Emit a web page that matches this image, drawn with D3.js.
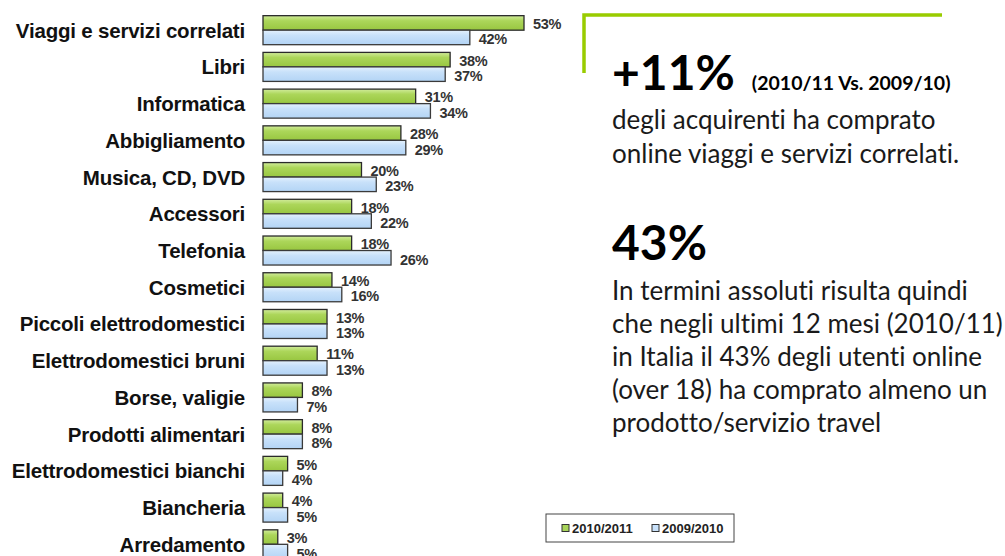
<!DOCTYPE html>
<html>
<head>
<meta charset="utf-8">
<script src="https://cdn.jsdelivr.net/npm/d3@7"></script>
<style>
  body { margin: 0; background: #fff; }
  svg { display: block; }
</style>
</head>
<body>
<div id="chart"></div>
<script>
// Categories and values (percent of online buyers)
const categories = [
    "Viaggi e servizi correlati", "Libri", "Informatica", "Abbigliamento",
    "Musica, CD, DVD", "Accessori", "Telefonia", "Cosmetici",
    "Piccoli elettrodomestici", "Elettrodomestici bruni", "Borse, valigie",
    "Prodotti alimentari", "Elettrodomestici bianchi", "Biancheria", "Arredamento"
];
const values2011 = [53, 38, 31, 28, 20, 18, 18, 14, 13, 11, 8, 8, 5, 4, 3];
const values2010 = [42, 37, 34, 29, 23, 22, 26, 16, 13, 13, 7, 8, 4, 5, 5];
const seriesNames = ["2010/2011", "2009/2010"];

const W = 1005, H = 556;

const svg = d3.select("#chart").append("svg")
    .attr("width", W)
    .attr("height", H);

// Gradients for bars
const defs = svg.append("defs");
const gradients = [
    { id: "gGreen", top: "#d2ec9c", mid: "#acd65a", bottom: "#98c640" },
    { id: "gBlue", top: "#e4f1fd", mid: "#c8e1fa", bottom: "#b3d4f5" }
];
gradients.forEach(g => {
    const lg = defs.append("linearGradient")
        .attr("id", g.id)
        .attr("x1", 0).attr("y1", 0).attr("x2", 0).attr("y2", 1);
    lg.append("stop").attr("offset", "0%").attr("stop-color", g.top);
    lg.append("stop").attr("offset", "35%").attr("stop-color", g.mid);
    lg.append("stop").attr("offset", "100%").attr("stop-color", g.bottom);
});

// Scales
const x = d3.scaleLinear().domain([0, 53]).range([263, 524]);
const y = d3.scaleBand()
    .domain(categories)
    .range([12, 12 + 15 * 36.7])
    .paddingInner(0.21)
    .paddingOuter(0.1);
const sub = d3.scaleBand()
    .domain(seriesNames)
    .range([0, y.bandwidth()]);

const rows = categories.map((c, i) => ({ cat: c, v: [values2011[i], values2010[i]] }));

const row = svg.append("g").selectAll("g")
    .data(rows)
    .join("g")
    .attr("transform", d => `translate(0,${y(d.cat)})`);

// Category labels
row.append("text")
    .attr("x", 245)
    .attr("y", y.bandwidth() / 2)
    .attr("text-anchor", "end")
    .attr("dominant-baseline", "central")
    .attr("font-family", "Liberation Sans, Arial, sans-serif")
    .attr("font-size", "20.5px")
    .attr("font-weight", "bold")
    .attr("letter-spacing", "-0.2px")
    .attr("fill", "#111")
    .text(d => d.cat);

// Bars
const fills = ["url(#gGreen)", "url(#gBlue)"];
const strokes = ["#2a2a2a", "#3a3a3a"];
seriesNames.forEach((s, k) => {
    row.append("rect")
        .attr("x", x(0))
        .attr("y", sub(s))
        .attr("width", d => x(d.v[k]) - x(0))
        .attr("height", sub.bandwidth())
        .attr("fill", fills[k])
        .attr("stroke", strokes[k])
        .attr("stroke-width", 1.3);
});

// Value labels
seriesNames.forEach((s, k) => {
    row.append("text")
        .attr("x", d => x(d.v[k]) + 9)
        .attr("y", sub(s) + sub.bandwidth() / 2 + (k === 0 ? 1 : 2))
        .attr("dominant-baseline", "central")
        .attr("font-family", "Liberation Sans, Arial, sans-serif")
        .attr("font-size", "14.5px")
        .attr("font-weight", "bold")
        .attr("letter-spacing", "-0.3px")
        .attr("fill", "#333")
        .text(d => d.v[k] + "%");
});

// Legend
const legend = svg.append("g").attr("transform", "translate(546,514)");
legend.append("rect")
    .attr("width", 188).attr("height", 28)
    .attr("fill", "#fff")
    .attr("stroke", "#444").attr("stroke-width", 1);
const legendColors = ["#a8d45a", "#c8e1fa"];
seriesNames.forEach((s, k) => {
    const lg = legend.append("g").attr("transform", `translate(${16 + k * 90},14)`);
    lg.append("rect")
        .attr("x", 0).attr("y", -3.5)
        .attr("width", 7).attr("height", 7)
        .attr("fill", legendColors[k])
        .attr("stroke", "#333").attr("stroke-width", 1);
    lg.append("text")
        .attr("x", 10).attr("y", 0.5)
        .attr("dominant-baseline", "central")
        .attr("font-family", "Liberation Sans, Arial, sans-serif")
        .attr("font-size", "13px")
        .attr("font-weight", "bold")
        .attr("fill", "#222")
        .text(s);
});

// Right-hand commentary panel
svg.append("path")
    .attr("d", "M584,73 V15 H942")
    .attr("fill", "none")
    .attr("stroke", "#99cc00")
    .attr("stroke-width", 3.5);

const calloutFont = "Lato, 'Open Sans', sans-serif";

const head1 = svg.append("text")
    .attr("x", 612).attr("y", 90)
    .attr("font-family", calloutFont)
    .attr("fill", "#000");
head1.append("tspan")
    .attr("font-size", "48px")
    .attr("font-weight", "bold")
    .text("+11%");
head1.append("tspan")
    .attr("dx", 17)
    .attr("font-size", "19.5px")
    .attr("font-weight", "bold")
    .text("(2010/11 Vs. 2009/10)");

const lines1 = ["degli acquirenti ha comprato", "online viaggi e servizi correlati."];
svg.append("g").selectAll("text")
    .data(lines1)
    .join("text")
    .attr("x", 612)
    .attr("y", (d, i) => 129 + i * 34)
    .attr("font-family", calloutFont)
    .attr("font-size", "26px")
    .style("font-variant-ligatures", "none")
    .attr("fill", "#1a1a1a")
    .text(d => d);

svg.append("text")
    .attr("x", 612).attr("y", 260)
    .attr("font-family", calloutFont)
    .attr("font-size", "48px")
    .attr("font-weight", "bold")
    .attr("fill", "#000")
    .text("43%");

const lines2 = [
    "In termini assoluti risulta quindi",
    "che negli ultimi 12 mesi (2010/11)",
    "in Italia il 43% degli utenti online",
    "(over 18) ha comprato almeno un",
    "prodotto/servizio travel"
];
svg.append("g").selectAll("text")
    .data(lines2)
    .join("text")
    .attr("x", 612)
    .attr("y", (d, i) => 300 + i * 33)
    .attr("font-family", calloutFont)
    .attr("font-size", "26px")
    .style("font-variant-ligatures", "none")
    .attr("fill", "#1a1a1a")
    .text(d => d);
</script>
</body>
</html>
